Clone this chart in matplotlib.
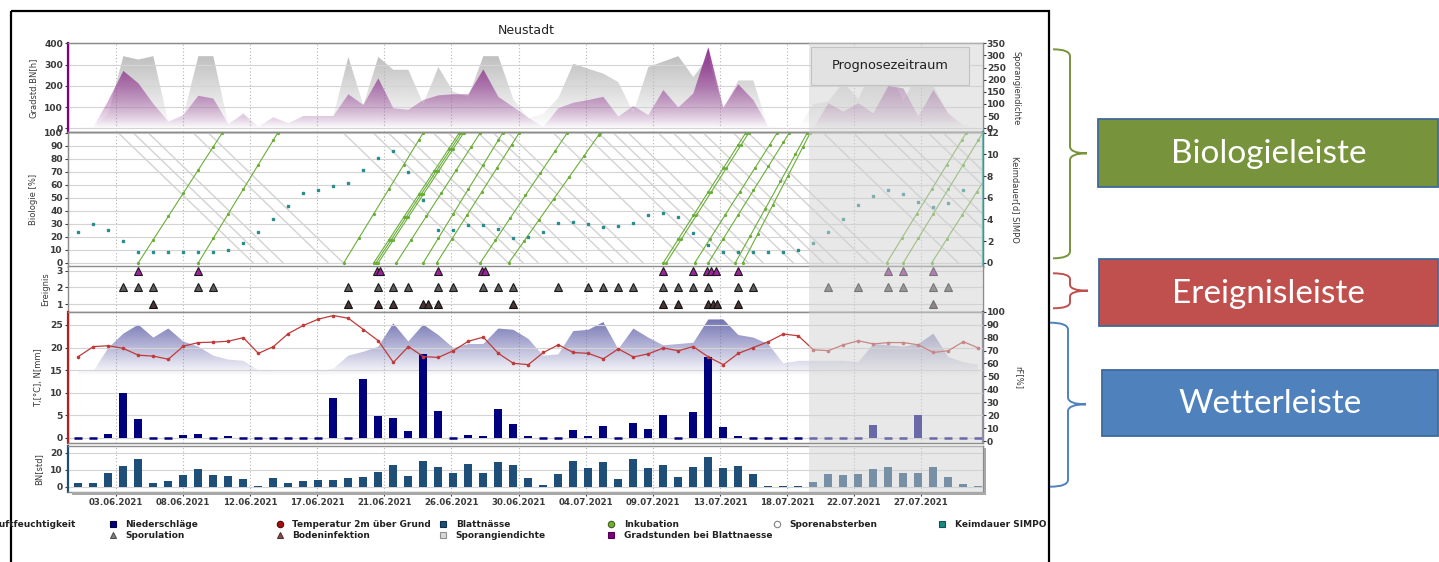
import numpy as np
import matplotlib
matplotlib.use("Agg")
import matplotlib.pyplot as plt
from matplotlib.patches import Rectangle, PathPatch
from matplotlib.path import Path
from matplotlib.colors import to_rgb

plt.rcParams['font.family'] = ['DejaVu Sans']
plt.rcParams['font.weight'] = 'bold'

# ---------------- data ----------------
title = "Neustadt"
tick_labels = ["03.06.2021", "08.06.2021", "12.06.2021", "17.06.2021", "21.06.2021",
               "26.06.2021", "30.06.2021", "04.07.2021", "09.07.2021", "13.07.2021",
               "18.07.2021", "22.07.2021", "27.07.2021"]

gradstunden = [0, 5, 130, 270, 212, 115, 32, 62, 153, 140,
               20, 70, 8, 52, 24, 58, 58, 58, 160, 110,
               235, 94, 87, 133, 155, 160, 160, 277, 148, 100,
               50, 5, 94, 120, 133, 148, 55, 105, 62, 180,
               98, 164, 381, 98, 207, 133, 8, 0, 0, 0,
               118, 78, 118, 70, 199, 188, 55, 180, 70, 15, 0]
sporangiendichte = [0, 0, 60, 297, 283, 297, 25, 50, 297, 297,
                    15, 55, 5, 45, 20, 50, 50, 50, 294, 95,
                    294, 241, 241, 100, 252, 150, 130, 297, 297, 120,
                    40, 60, 125, 266, 245, 225, 190, 63, 252, 275,
                    297, 211, 293, 80, 197, 197, 0, 0, 0, 100,
                    110, 190, 120, 255, 250, 110, 235, 175, 60, 0, 0]
keimdauer = [2.8, 3.6, 3.0, 2.0, 1.0, 1.0, 1.0, 1.0, 1.0, 1.0,
             1.2, 1.8, 2.8, 4.0, 5.2, 6.4, 6.7, 7.1, 7.4, 8.6,
             9.7, 10.3, 8.4, 5.8, 3.0, 3.0, 3.5, 3.5, 3.1, 2.3,
             2.4, 2.8, 3.7, 3.8, 3.6, 3.3, 3.4, 3.7, 4.4, 4.6,
             4.2, 2.7, 1.6, 1.0, 1.0, 1.0, 1.0, 1.0, 1.2, 1.8,
             2.8, 4.0, 5.3, 6.2, 6.7, 6.3, 5.6, 5.1, 5.5, 6.7]
niederschlag = [0, 0, 0.8, 10.0, 4.1, 0, 0, 0.6, 0.9, 0,
                0.4, 0, 0, 0, 0, 0, 0, 8.7, 0, 13.0,
                4.8, 4.3, 1.5, 18.5, 5.9, 0, 0.5, 0.4, 6.3, 3.0,
                0.4, 0, 0, 1.7, 0.4, 2.7, 0, 3.2, 1.9, 5.0,
                0, 5.6, 18.0, 2.4, 0.3, 0, 0, 0, 0, 0,
                0, 0, 0, 2.8, 0, 0, 5.0, 0, 0, 0, 0]
temperatur = [18.0, 20.2, 20.4, 19.8, 18.3, 18.1, 17.4, 20.3, 21.1, 21.2,
              21.4, 22.2, 18.7, 20.2, 23.1, 24.9, 26.3, 27.1, 26.5, 24.0,
              21.5, 16.7, 20.2, 18.0, 17.8, 19.3, 21.4, 22.3, 18.7, 16.5,
              16.2, 18.9, 20.6, 18.9, 18.7, 17.5, 19.7, 17.9, 18.6, 19.9,
              19.3, 20.2, 17.9, 16.2, 18.7, 20.0, 21.3, 23.0, 22.6, 19.5,
              19.3, 20.6, 21.5, 20.8, 21.1, 21.1, 20.6, 18.9, 19.3, 21.3, 19.9]
luftfeuchte = [54, 54, 72, 83, 90, 80, 87, 77, 73, 66,
               63, 62, 55, 54, 54, 54, 54, 56, 66, 69,
               73, 91, 77, 90, 82, 72, 75, 75, 87, 86,
               79, 66, 67, 85, 86, 92, 71, 87, 80, 74,
               75, 76, 94, 94, 82, 80, 75, 60, 62, 62,
               62, 62, 61, 75, 74, 73, 75, 83, 65, 61, 59]
blattnaesse = [2.4, 2.4, 8.2, 12.4, 16.1, 2.4, 3.1, 6.7, 10.2, 6.7,
               6.3, 4.5, 0.4, 4.9, 2.4, 3.5, 3.7, 3.7, 4.9, 5.9,
               8.8, 12.6, 6.1, 15.0, 11.8, 8.3, 13.3, 8.3, 14.3, 12.9,
               4.9, 1.0, 7.3, 15.3, 10.8, 14.3, 4.5, 16.1, 11.0, 12.5,
               5.9, 11.8, 17.3, 11.2, 12.2, 7.5, 0.4, 0.4, 0.4, 2.9,
               7.3, 6.9, 7.3, 10.4, 11.4, 8.2, 8.2, 11.4, 5.9, 1.6, 0.4]

# events (day index, 0 = 01.06.2021)
infektion = [4, 8, 19.9, 20.1, 24, 26.9, 27.1, 39, 41, 41.9, 42.2, 42.5, 44, 54, 55, 57]
sporulation = [3, 4, 5, 8, 9, 18, 20, 21, 22, 24, 25, 27, 28, 29, 32, 34, 35, 36, 37,
               39, 40, 41, 42, 44, 45, 50, 52, 54, 55, 57, 58]
bodeninfektion = [5, 18, 20, 21, 23, 23.3, 24, 29, 39, 40, 42, 42.3, 42.6, 44, 57]
inkubation_start = [4.0, 8.0, 17.7, 19.7, 19.85, 20.0, 21.2, 23.0, 23.9, 26.8, 28.7,
                    39.0, 39.2, 41.1, 42.0, 43.8, 44.3, 53.9, 55.0, 56.9]
inkubation_ende = [9.6, 13.3, 23.0, 25.4, 25.55, 25.7, 26.8, 28.3, 29.4, 32.6, 34.8,
                   44.5, 44.7, 46.6, 47.4, 48.6, 48.8, 59.2, 60.3, 62.4]
absterben_dauer = 9.0
prognose_start = 48.7

legend_row1 = ["Niederschläge", "Temperatur 2m über Grund", "Blattnässe",
               "Inkubation", "Sporenabsterben", "Keimdauer SIMPO"]
legend_row2 = ["Sporulation", "Bodeninfektion", "Sporangiendichte",
               "Gradstunden bei Blattnaesse"]
box_labels = ["Biologieleiste", "Ereignisleiste", "Wetterleiste"]

# ---------------- layout ----------------
W, H = 1439, 562
fig = plt.figure(figsize=(W / 100, H / 100), dpi=100)
fig.patch.set_facecolor('white')

days = np.arange(len(gradstunden))
xticks = 2.51 + 4.473 * np.arange(len(tick_labels))
XLIM = (-0.71, 60.29)
XL, XR = 67.7, 982.7
GRID = '#d4d4d4'
SPINE = '#8c8c8c'
TXT = '#3a3a3a'


def add_ax(y0, y1):
    return fig.add_axes([XL / W, 1 - y1 / H, (XR - XL) / W, (y1 - y0) / H])


def base_style(ax):
    ax.set_xlim(*XLIM)
    ax.set_xticks(xticks)
    ax.tick_params(axis='x', length=0, labelbottom=False)
    ax.grid(axis='x', ls=(0, (1, 2)), color='#b4b4b4', lw=0.8)
    for s in ax.spines.values():
        s.set_color(SPINE)
        s.set_linewidth(1.0)


def ystyle(ax):
    ax.tick_params(axis='y', labelsize=6.6, colors=TXT, length=2.2, width=0.8, pad=1.2)


def shade(ax):
    ax.axvspan(prognose_start, XLIM[1] + 2, color='#d2d2d2', alpha=0.5, lw=0, zorder=50)
    ax.set_xlim(*XLIM)


def grad_area(ax, x, y, color, vmax, vmin, gamma, z):
    x = np.asarray(x, float)
    y = np.asarray(y, float)
    verts = np.vstack([[x[0], 0], np.column_stack([x, y]), [x[-1], 0], [x[0], 0]])
    codes = [Path.MOVETO] + [Path.LINETO] * (len(verts) - 2) + [Path.CLOSEPOLY]
    patch = PathPatch(Path(verts, codes), fc='none', ec='none', transform=ax.transData)
    ax.add_patch(patch)
    n = 256
    t = np.linspace(0, 1, n) ** gamma
    rgba = np.zeros((n, 1, 4))
    rgba[..., :3] = to_rgb(color)
    rgba[..., 3] = t[:, None]
    im = ax.imshow(rgba, extent=[x[0], x[-1], vmin, vmax], origin='lower',
                   aspect='auto', zorder=z, interpolation='bilinear')
    im.set_clip_path(patch)


def ylab(ax, text, xfrac, right=False):
    ax.set_ylabel(text, fontsize=6, color=TXT, rotation=270 if right else 90,
                  va='center', ha='center')
    ax.yaxis.set_label_coords(xfrac, 0.5)


LEFT_LAB = lambda px: (px - XL) / (XR - XL)

# ---- top panel: Sporangiendichte / Gradstunden ----
axT = add_ax(43.3, 132.3)
base_style(axT)
grad_area(axT, days, sporangiendichte, '#b4b4b4', 350, 0, 1.0, 2)
axT2 = axT.twinx()
grad_area(axT2, days, gradstunden, '#8a2a8a', 400, 0, 0.8, 3)
axT.yaxis.tick_right()
axT.yaxis.set_label_position('right')
axT2.yaxis.tick_left()
axT2.yaxis.set_label_position('left')
axT.set_ylim(-16.6, 350)
axT.set_yticks(range(0, 351, 50))
axT2.set_ylim(-19, 400)
axT2.set_yticks(range(0, 401, 100))
axT2.grid(axis='y', color=GRID, lw=0.8)
ystyle(axT); ystyle(axT2)
axT.tick_params(axis='y', pad=0.8)
ylab(axT2, "Gradstd.BN[h]", LEFT_LAB(33))
ylab(axT, "Sporangiendichte", LEFT_LAB(1016), right=True)
for a in (axT, axT2):
    for s in a.spines.values():
        s.set_color(SPINE)
axT2.spines['left'].set_color('#800080')
axT2.spines['left'].set_linewidth(1.6)
shade(axT2)
axT2.add_patch(Rectangle((0.8124, 0.5315), 0.1727, 0.4303, transform=axT2.transAxes,
                         fc='#e2e2e2', ec='#c2c2c2', lw=0.8, zorder=60))
axT2.text(0.8988, 0.7466, "Prognosezeitraum", transform=axT2.transAxes, ha='center',
          va='center', fontsize=9.3, fontweight='normal', color='#202020', zorder=61)

# ---- biology panel ----
axB = add_ax(132.3, 266.5)
base_style(axB)
axB.set_yticks(range(0, 101, 10))
axB.grid(axis='y', color=GRID, lw=0.8)
for e in sporulation:
    axB.plot([e - 0.35, e - 0.35 + absterben_dauer], [100, 0], color='#d3d3d3', lw=1.0, zorder=2)
for s, e in zip(inkubation_start, inkubation_ende):
    xs = np.append(np.arange(s, e, 1.0), e)
    ys = (xs - s) / (e - s) * 100
    axB.plot(xs, ys, color='#6aae38', lw=0.8, marker='o', ms=1.3, zorder=3)
axB.set_ylim(-2.9, 100.3)
axB2 = axB.twinx()
axB2.plot(days[:len(keimdauer)], keimdauer, ls='', marker='s', ms=1.7, color='#2a8c8c', zorder=4)
axB.yaxis.tick_left()
axB2.yaxis.tick_right()
axB2.set_ylim(-0.348, 12.036)
axB2.set_yticks(range(0, 13, 2))
ystyle(axB); ystyle(axB2)
axB2.tick_params(axis='y', pad=0.8)
ylab(axB, "Biologie [%]", LEFT_LAB(33))
axB2.yaxis.set_label_position('right')
ylab(axB2, "Keimdauer[d] SIMPO", LEFT_LAB(1015), right=True)
for s in axB2.spines.values():
    s.set_color(SPINE)
axB2.spines['right'].set_color('#20a0a0')
axB2.spines['right'].set_linewidth(1.6)
shade(axB2)

# ---- event panel ----
axE = add_ax(266.5, 311.7)
base_style(axE)
axE.set_ylim(0.54, 3.25)
axE.set_yticks([1, 2, 3])
axE.grid(axis='y', color=GRID, lw=0.8)
axE.plot(sporulation, [2] * len(sporulation), ls='', marker='^', ms=5.8,
         mfc='#5c5c5c', mec='#1a1a1a', mew=0.8, zorder=3)
axE.plot(bodeninfektion, [1] * len(bodeninfektion), ls='', marker='^', ms=5.8,
         mfc='#4a3434', mec='#111111', mew=0.8, zorder=3)
axE.plot(infektion, [3] * len(infektion), ls='', marker='^', ms=5.8,
         mfc='#a020a0', mec='#1a1a1a', mew=0.8, zorder=3)
ystyle(axE)
ylab(axE, "Ereignis", LEFT_LAB(46))
shade(axE)

# ---- weather panel ----
axW = add_ax(311.7, 443)
base_style(axW)
grad_area(axW, days, luftfeuchte, '#5f5fa8', 100, 50, 1.0, 2)
axW2 = axW.twinx()
N = np.asarray(niederschlag, float)
wet = N > 0
axW2.bar(days[wet], N[wet], width=0.53, color='#00007f', zorder=3)
axW2.plot(days[~wet], N[~wet], ls='', marker='_', ms=5.8, mew=1.8, color='#00007f', zorder=3)
axW2.plot(days, temperatur, color='#c03a3a', lw=0.9, marker='o', ms=1.6, zorder=4)
axW.yaxis.tick_right()
axW.yaxis.set_label_position('right')
axW2.yaxis.tick_left()
axW2.yaxis.set_label_position('left')
axW.set_ylim(-1.5, 100)
axW.set_yticks(range(0, 101, 10))
axW2.set_ylim(-1.18, 27.95)
axW2.set_yticks(range(0, 26, 5))
axW2.grid(axis='y', color=GRID, lw=0.8)
ystyle(axW); ystyle(axW2)
axW.tick_params(axis='y', pad=0.8)
ylab(axW2, "T,[°C], N[mm]", LEFT_LAB(39))
ylab(axW, "rF[%]", LEFT_LAB(1019), right=True)
for a in (axW, axW2):
    for s in a.spines.values():
        s.set_color(SPINE)
axW2.spines['left'].set_color('#b02020')
axW2.spines['left'].set_linewidth(1.6)
axW.spines['right'].set_color('#505070')
axW.spines['right'].set_linewidth(1.6)
shade(axW2)

# ---- leaf wetness panel ----
axN = add_ax(446, 491.5)
base_style(axN)
axN.bar(days, blattnaesse, width=0.53, color='#1f4e79', zorder=3)
axN.set_ylim(-2.8, 23.9)
axN.set_yticks([0, 10, 20])
axN.grid(axis='y', color=GRID, lw=0.8)
axN.set_xticks(xticks)
axN.set_xticklabels(tick_labels)
axN.tick_params(axis='x', length=3, width=0.8, colors=TXT, labelbottom=True,
                labelsize=6.2, pad=2)
ystyle(axN)
ylab(axN, "BN[std]", LEFT_LAB(39))
axN.spines['left'].set_color('#1f4e79')
axN.spines['left'].set_linewidth(1.6)
shade(axN)

fig.text(526 / W, 1 - 31 / H, title, ha='center', va='center', fontsize=9,
         fontweight='normal', color='#222222')

# ---------------- overlay: frame, legend, braces, boxes ----------------
ov = fig.add_axes([0, 0, 1, 1])
ov.set_xlim(0, W)
ov.set_ylim(H, 0)
ov.axis('off')
ov.patch.set_visible(False)
ov.set_zorder(10)

ov.add_patch(Rectangle((10.7, 10.7), 1038.3, 620, fc='none', ec='black', lw=1.6))
# drop shadow of the bottom panel
ov.add_patch(Rectangle((983.5, 448), 2.5, 46.5, fc='#a8a8a8', ec='none'))
ov.add_patch(Rectangle((72, 492.2), 914, 2.3, fc='#a8a8a8', ec='none'))

# legend
r1, r2 = 524.3, 535.0
ov.text(-6.5, r1, "Luftfeuchtigkeit", fontsize=6.5, color='#222', va='center', ha='left')
row1_x = [112.7, 280.0, 443.3, 611.4, 776.8, 942.2]
row1_m = [('s', '#00007f', '#000040'), ('o', '#a01010', '#600000'), ('s', '#1f4e79', '#10304a'),
          ('o', '#70b030', '#406020'), ('o', 'white', '#808080'), ('s', '#1a8a80', '#0f5550')]
for x, (m, fc, ec), lab in zip(row1_x, row1_m, legend_row1):
    ov.plot([x], [r1], marker=m, ms=4.6, mfc=fc, mec=ec, mew=0.8, ls='')
    ov.text(x + 12.5, r1, lab, fontsize=6.5, color='#222', va='center', ha='left')
row2_x = [112.7, 280.0, 443.3, 611.4]
row2_m = [('^', '#808080', '#505050'), ('^', '#904848', '#503030'),
          ('s', '#d8d8d8', '#909090'), ('s', '#800080', '#500050')]
for x, (m, fc, ec), lab in zip(row2_x, row2_m, legend_row2):
    ov.plot([x], [r2], marker=m, ms=4.6, mfc=fc, mec=ec, mew=0.8, ls='')
    ov.text(x + 12.5, r2, lab, fontsize=6.5, color='#222', va='center', ha='left')


def brace(x0, xm, xt, y0, y1, ym, color, r=7):
    verts = [(x0, y0), (xm, y0), (xm, y0 + r), (xm, ym - r), (xm, ym), (xt, ym),
             (xm, ym), (xm, ym + r), (xm, y1 - r), (xm, y1), (x0, y1)]
    codes = [Path.MOVETO, Path.CURVE3, Path.CURVE3, Path.LINETO, Path.CURVE3, Path.CURVE3,
             Path.CURVE3, Path.CURVE3, Path.LINETO, Path.CURVE3, Path.CURVE3]
    ov.add_patch(PathPatch(Path(verts, codes), fc='none', ec=color, lw=1.4))


brace(1053, 1070, 1087, 49.3, 258.3, 153.3, '#77933c')
brace(1053, 1070, 1088, 273.3, 308.3, 290.7, '#c0504d', r=6)
brace(1050, 1068, 1086, 322.7, 486.7, 404.3, '#4f81bd')

boxes = [((1098.3, 119.0, 340.0, 67.7), '#77933c'),
         ((1099.3, 259.3, 339.0, 66.7), '#c0504d'),
         ((1102.0, 370.0, 336.0, 66.0), '#4f81bd')]
for ((bx, by, bw, bh), col), lab in zip(boxes, box_labels):
    ov.add_patch(Rectangle((bx, by), bw, bh, fc=col, ec='#3f6a98', lw=1.3))
    ov.text(bx + bw / 2, by + bh / 2 + 1, lab, fontsize=24, fontweight='normal',
            family=['Lato', 'DejaVu Sans'], color='white', ha='center', va='center')

fig.savefig("out.png", dpi=100, facecolor='white')
